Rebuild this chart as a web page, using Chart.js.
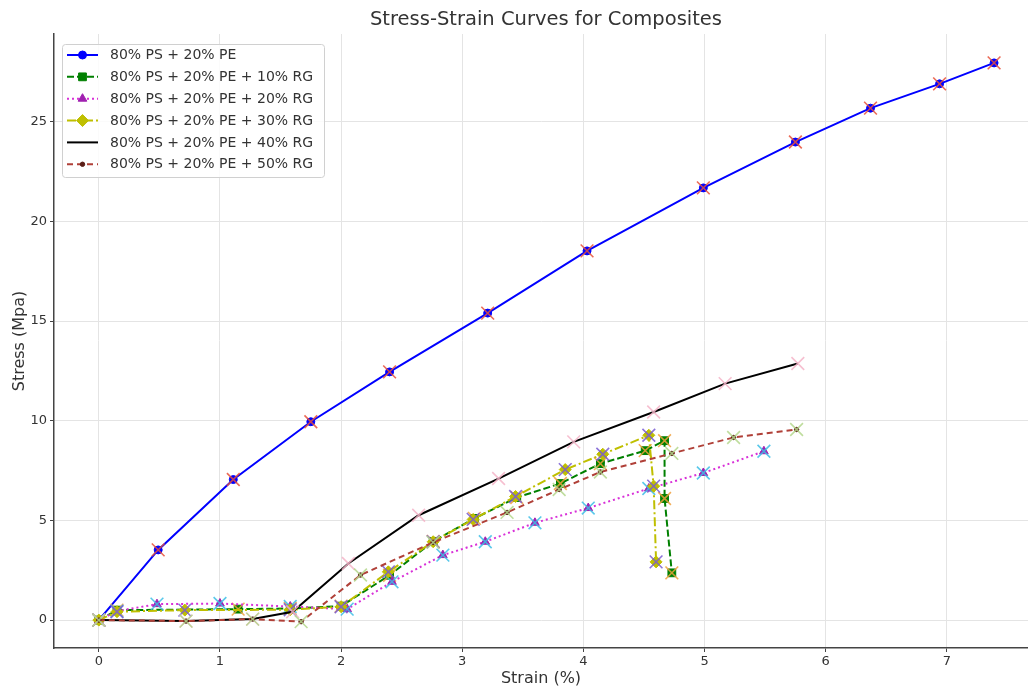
<!DOCTYPE html>
<html>
<head>
<meta charset="utf-8">
<script src="https://cdn.jsdelivr.net/npm/chart.js@4.4.1/dist/chart.umd.min.js"></script>
<style>
  html, body { margin: 0; padding: 0; background: #ffffff; }
  #wrap { width: 1028px; height: 689px; }
</style>
</head>
<body>
<div id="wrap"><canvas id="chart" width="1028" height="689"></canvas></div>
<script>
// Strain (%) / Stress (MPa) readings for each composite blend
const seriesLabels = [
  '80% PS + 20% PE',
  '80% PS + 20% PE + 10% RG',
  '80% PS + 20% PE + 20% RG',
  '80% PS + 20% PE + 30% RG',
  '80% PS + 20% PE + 40% RG',
  '80% PS + 20% PE + 50% RG'
];

const strainBase = [0, 0.49, 1.11, 1.75, 2.40, 3.21, 4.03, 4.99, 5.75, 6.37, 6.94, 7.39];
const stressBase = [0, 3.52, 7.05, 9.95, 12.45, 15.40, 18.52, 21.68, 23.98, 25.68, 26.90, 27.95];

const strainRG10 = [0, 0.15, 1.15, 1.58, 2.00, 2.40, 2.76, 3.10, 3.45, 3.81, 4.14, 4.51, 4.67, 4.67, 4.73];
const stressRG10 = [0, 0.50, 0.55, 0.58, 0.70, 2.25, 3.95, 5.10, 6.15, 6.85, 7.85, 8.50, 9.00, 6.10, 2.37];

const strainRG20 = [0, 0.15, 0.48, 1.00, 1.58, 2.05, 2.42, 2.84, 3.19, 3.60, 4.04, 4.54, 4.99, 5.49];
const stressRG20 = [0, 0.45, 0.80, 0.83, 0.68, 0.55, 1.92, 3.26, 3.93, 4.88, 5.62, 6.60, 7.38, 8.47];

const strainRG30 = [0, 0.15, 0.71, 1.58, 2.00, 2.39, 2.76, 3.09, 3.44, 3.85, 4.16, 4.54, 4.58, 4.60];
const stressRG30 = [0, 0.42, 0.50, 0.52, 0.67, 2.42, 3.93, 5.05, 6.20, 7.55, 8.32, 9.27, 6.72, 2.92];

const strainRG40 = [0, 0.72, 1.27, 1.60, 2.06, 2.64, 3.30, 3.92, 4.58, 5.17, 5.77];
const stressRG40 = [0, -0.05, 0.05, 0.42, 2.84, 5.26, 7.10, 8.94, 10.44, 11.86, 12.87];

const strainRG50 = [0, 0.72, 1.27, 1.67, 2.16, 2.76, 3.37, 3.80, 4.14, 4.73, 5.24, 5.76];
const stressRG50 = [0, -0.05, 0.05, -0.08, 2.26, 3.90, 5.40, 6.55, 7.43, 8.36, 9.16, 9.56];

const xTickValues = [0, 1, 2, 3, 4, 5, 6, 7];
const yTickValues = [0, 5, 10, 15, 20, 25];

const toPoints = (xs, ys) => xs.map((x, i) => ({ x: x, y: ys[i] }));

// line look for each blend, plus the colour of the "x" marks laid over its points
const styles = [
  { color: '#0000ff', dash: [], width: 2, point: 'circle', r: 4, fill: '#0000ff', cross: 'rgba(232,80,56,0.85)' },
  { color: '#008000', dash: [7, 3], width: 2, point: 'rect', r: 5.5, fill: '#008000', cross: 'rgba(240,160,60,0.85)' },
  { color: '#d830d8', dash: [2, 3], width: 2, point: 'triangle', r: 5, fill: '#a020b0', cross: 'rgba(60,190,230,0.85)' },
  { color: '#bfbf00', dash: [9, 3, 2, 3], width: 2, point: 'rectRot', r: 6, fill: '#bfbf00', cross: 'rgba(120,90,210,0.85)' },
  { color: '#000000', dash: [], width: 2, point: false, r: 0, fill: '#000000', cross: 'rgba(244,180,200,0.85)' },
  { color: '#b04038', dash: [6, 4], width: 2, point: 'circle', r: 2.2, fill: '#5a1e18', cross: 'rgba(180,215,140,0.85)' }
];

const seriesData = [
  toPoints(strainBase, stressBase),
  toPoints(strainRG10, stressRG10),
  toPoints(strainRG20, stressRG20),
  toPoints(strainRG30, stressRG30),
  toPoints(strainRG40, stressRG40),
  toPoints(strainRG50, stressRG50)
];

const datasets = [];
seriesData.forEach((pts, k) => {
  const s = styles[k];
  datasets.push({
    label: seriesLabels[k],
    data: pts,
    showLine: true,
    borderColor: s.color,
    borderWidth: s.width,
    borderDash: s.dash,
    pointStyle: s.point,
    pointRadius: s.r,
    pointBackgroundColor: s.fill,
    pointBorderColor: s.fill,
    pointBorderWidth: 1,
    tension: 0,
    order: 100 - 2 * k,
    inLegend: true
  });
  datasets.push({
    label: seriesLabels[k] + ' marks',
    data: pts,
    showLine: false,
    pointStyle: 'crossRot',
    pointRadius: 9,
    pointBorderWidth: 1.6,
    pointBorderColor: s.cross,
    pointBackgroundColor: s.cross,
    order: 100 - 2 * k - 1,
    inLegend: false
  });
});

const FONT = "'DejaVu Sans', sans-serif";

// Heading above the plot
const headingPlugin = {
  id: 'heading',
  afterDraw(chart) {
    const ctx = chart.ctx;
    ctx.save();
    ctx.fillStyle = '#333333';
    ctx.font = '19.5px ' + FONT;
    ctx.textAlign = 'center';
    ctx.textBaseline = 'middle';
    ctx.fillText('Stress-Strain Curves for Composites', 546, 20);
    ctx.restore();
  }
};

// Legend box with line samples in the upper-left corner
const legendBoxPlugin = {
  id: 'legendBox',
  afterDraw(chart) {
    const ctx = chart.ctx;
    const items = chart.data.datasets.filter(d => d.inLegend);
    const x0 = 62, y0 = 44, w = 262, h = 133;
    ctx.save();
    ctx.fillStyle = 'rgba(255,255,255,0.85)';
    ctx.strokeStyle = '#d0d0d0';
    ctx.lineWidth = 1;
    ctx.beginPath();
    ctx.roundRect(x0 + 0.5, y0 + 0.5, w, h, 3);
    ctx.fill();
    ctx.stroke();
    items.forEach((d, i) => {
      const y = 55 + i * 21.85;
      ctx.save();
      ctx.strokeStyle = d.borderColor;
      ctx.lineWidth = d.borderWidth;
      ctx.setLineDash(d.borderDash);
      ctx.beginPath();
      ctx.moveTo(67, y);
      ctx.lineTo(98, y);
      ctx.stroke();
      ctx.restore();
      if (d.pointStyle) {
        ctx.save();
        ctx.fillStyle = d.pointBackgroundColor;
        ctx.strokeStyle = d.pointBorderColor;
        ctx.lineWidth = 1;
        ctx.setLineDash([]);
        Chart.helpers.drawPoint(ctx, {
          pointStyle: d.pointStyle,
          radius: d.pointRadius,
          borderWidth: 1,
          rotation: 0
        }, 82.5, y);
        ctx.restore();
      }
      ctx.fillStyle = '#333333';
      ctx.font = '14px ' + FONT;
      ctx.textAlign = 'left';
      ctx.textBaseline = 'middle';
      ctx.fillText(d.label, 110, y + 0.5);
    });
    ctx.restore();
  }
};

new Chart(document.getElementById('chart'), {
  type: 'scatter',
  data: { datasets: datasets },
  plugins: [headingPlugin, legendBoxPlugin],
  options: {
    responsive: false,
    animation: false,
    devicePixelRatio: 1,
    layout: { autoPadding: false, padding: { top: 34, left: 0, right: 0, bottom: 0 } },
    plugins: {
      legend: { display: false },
      tooltip: { enabled: false },
      title: { display: false }
    },
    scales: {
      x: {
        type: 'linear',
        min: -0.37,
        max: 7.67,
        afterFit(scale) { scale.height = 41; },
        afterBuildTicks(scale) { scale.ticks = xTickValues.map(v => ({ value: v })); },
        grid: { color: '#e4e4e4', lineWidth: 1, tickLength: 4, tickColor: '#444444' },
        border: { display: true, color: '#444444', width: 1.5 },
        ticks: { color: '#333333', font: { family: FONT, size: 13 }, padding: 2, maxRotation: 0 },
        title: { display: true, text: 'Strain (%)', color: '#333333', font: { family: FONT, size: 16 }, padding: { top: 0, bottom: 1 } }
      },
      y: {
        type: 'linear',
        min: -1.4,
        max: 29.4,
        afterFit(scale) { scale.width = 54; },
        afterBuildTicks(scale) { scale.ticks = yTickValues.map(v => ({ value: v })); },
        grid: { color: '#e4e4e4', lineWidth: 1, tickLength: 4, tickColor: '#444444' },
        border: { display: true, color: '#444444', width: 1.5 },
        ticks: { color: '#333333', font: { family: FONT, size: 13 }, padding: 3 },
        title: { display: true, text: 'Stress (Mpa)', color: '#333333', font: { family: FONT, size: 16 }, padding: { top: 10, bottom: 0 } }
      }
    }
  }
});
</script>
</body>
</html>
